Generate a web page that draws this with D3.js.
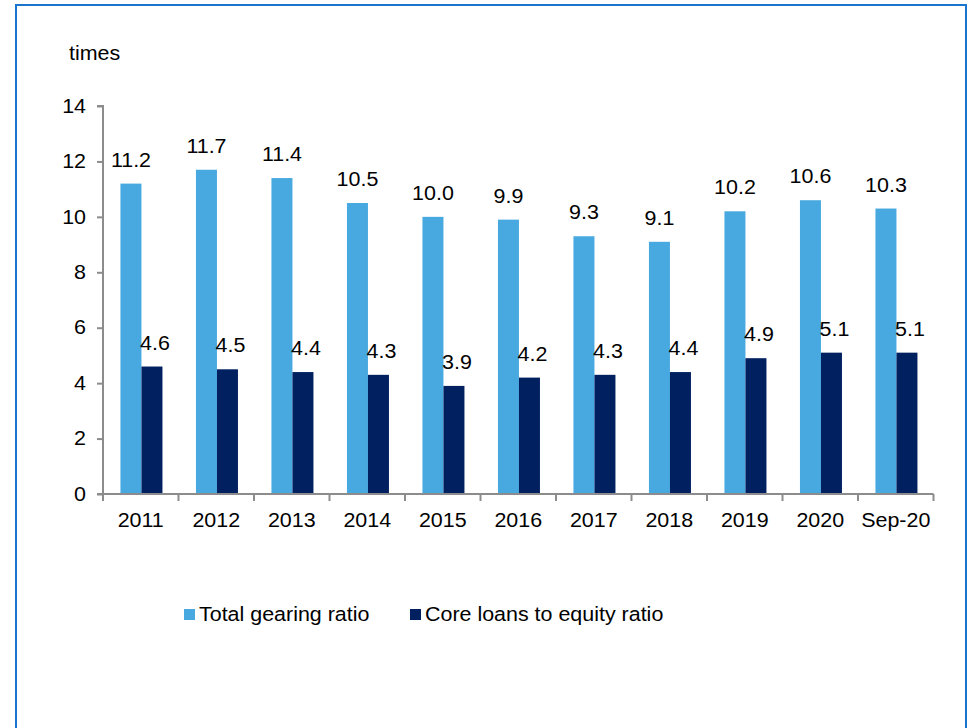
<!DOCTYPE html>
<html><head><meta charset="utf-8">
<script src="https://cdn.jsdelivr.net/npm/d3@7"></script>
<style>body{margin:0;background:#fff}svg{display:block}text{font-family:"Liberation Sans",Arial,sans-serif;fill:#000}</style>
</head><body>
<svg id="c" width="970" height="728"></svg>
<script>
const categories = ["2011","2012","2013","2014","2015","2016","2017","2018","2019","2020","Sep-20"];
const totalGearing = [11.2,11.7,11.4,10.5,10.0,9.9,9.3,9.1,10.2,10.6,10.3];
const coreLoans = [4.6,4.5,4.4,4.3,3.9,4.2,4.3,4.4,4.9,5.1,5.1];
const yTicks = [0,2,4,6,8,10,12,14];
const seriesNames = ["Total gearing ratio","Core loans to equity ratio"];
const colors = ["#48A9E0","#002060"];

const svg = d3.select("#c");
svg.append("rect").attr("x",16).attr("y",5).attr("width",950).attr("height",740)
  .attr("fill","none").attr("stroke","#1874CD").attr("stroke-width",2);

const x = d3.scaleBand().domain(categories).range([103,933.5]);
const y = d3.scaleLinear().domain([0,14]).range([494,106]);
const fs = 19.5, sx = 1.1;
function txt(px,py,s,anchor){
  return svg.append("text").attr("transform",`translate(${px},${py}) scale(${sx},1)`)
    .attr("text-anchor",anchor||"start").attr("font-size",fs).text(s);
}

// y axis
const yAx = svg.append("g").attr("transform","translate(103,0)")
  .call(d3.axisLeft(y).tickValues(yTicks).tickSize(6).tickPadding(12).tickFormat(d3.format("d")));
yAx.select(".domain").attr("stroke","#8c8c8c").attr("stroke-width",2).attr("d","M-6,106H0V494");
yAx.selectAll(".tick line").attr("stroke","#8c8c8c").attr("stroke-width",2);
yAx.selectAll(".tick text").attr("font-size",fs).attr("font-family","Liberation Sans, Arial, sans-serif").attr("fill","#000")
  .attr("x",-17/sx).attr("transform",`scale(${sx},1)`);

txt(69,60,"times");

// bars
const bw = 21;
const g = svg.append("g");
categories.forEach((c,i)=>{
  const cx = x(c)+x.bandwidth()/2 + 0.7;
  const v1 = totalGearing[i], v2 = coreLoans[i];
  g.append("rect").attr("x",cx-bw).attr("y",y(v1)).attr("width",bw).attr("height",y(0)-y(v1)).attr("fill",colors[0]);
  g.append("rect").attr("x",cx).attr("y",y(v2)).attr("width",bw).attr("height",y(0)-y(v2)).attr("fill",colors[1]);
  txt(cx-bw/2, y(v1)-17, v1.toFixed(1), "middle");
  txt(cx+bw/2+3, y(v2)-17, v2.toFixed(1), "middle");
});

// x axis
const xAx = svg.append("g").attr("transform","translate(0,494)")
  .call(d3.axisBottom(x).tickSize(0).tickPadding(19));
xAx.select(".domain").attr("stroke","#8c8c8c").attr("stroke-width",2).attr("d","M97,0H933.5");
xAx.selectAll(".tick text").attr("font-size",fs).attr("font-family","Liberation Sans, Arial, sans-serif").attr("fill","#000")
  .attr("transform",`scale(${sx},1)`);
const bounds = categories.map(c=>x(c)).concat([x(categories[categories.length-1])+x.bandwidth()]);
svg.append("g").selectAll("line").data(bounds).join("line")
  .attr("x1",d=>d).attr("x2",d=>d).attr("y1",494).attr("y2",501)
  .attr("stroke","#8c8c8c").attr("stroke-width",2);

// legend
const leg = [{x:184,tx:199},{x:410,tx:425}];
seriesNames.forEach((n,i)=>{
  svg.append("rect").attr("x",leg[i].x).attr("y",609).attr("width",11).attr("height",11).attr("fill",colors[i]);
  txt(leg[i].tx,621,n);
});
</script>
</body></html>
